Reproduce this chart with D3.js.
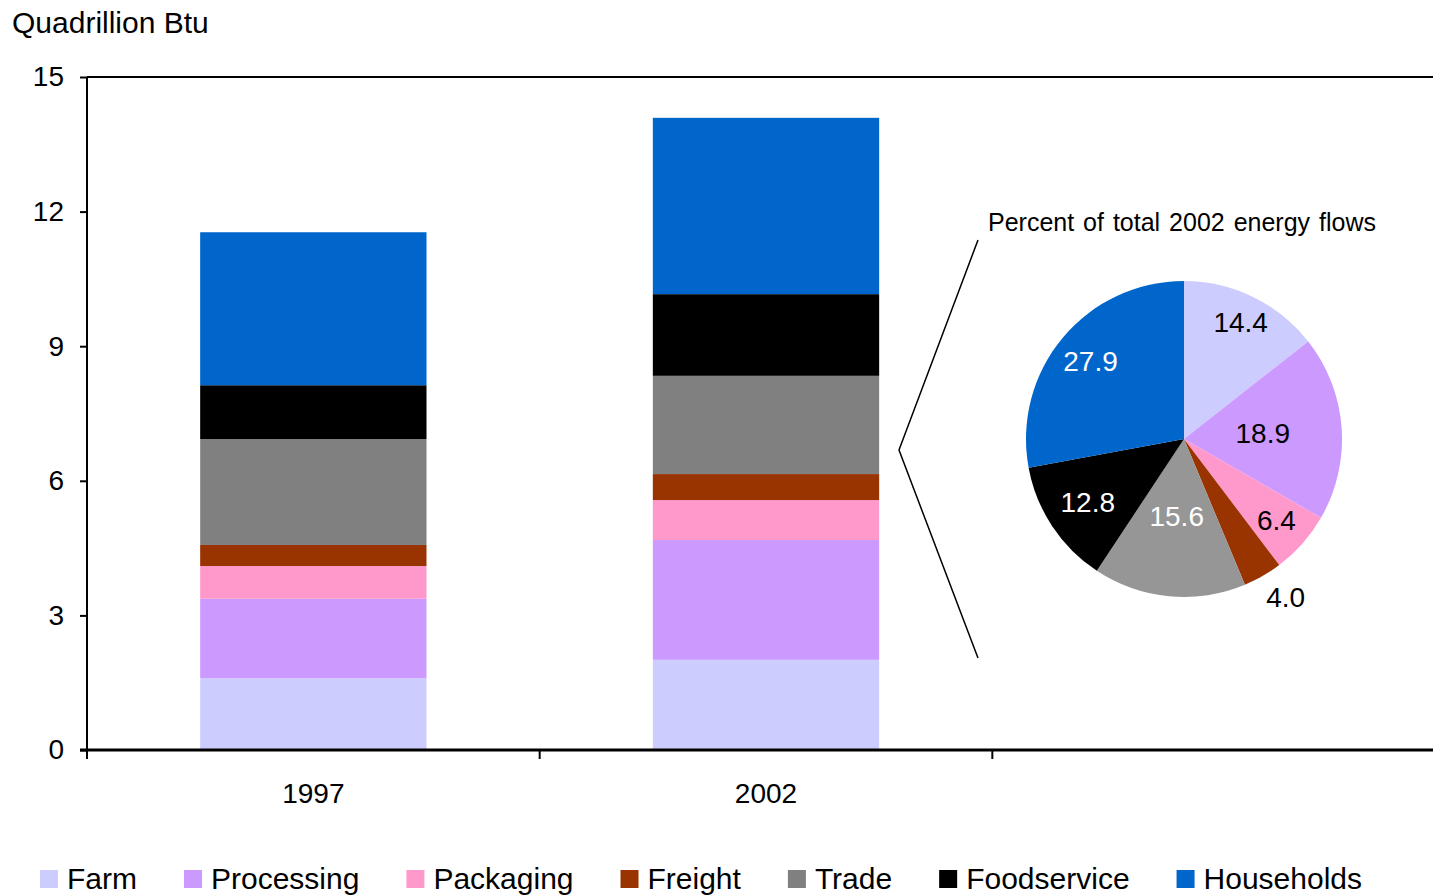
<!DOCTYPE html>
<html><head><meta charset="utf-8">
<script src="https://cdn.jsdelivr.net/npm/d3@7"></script>
<style>body{margin:0;background:#fff}svg{display:block;font-family:"Liberation Sans",Arial,sans-serif}</style>
</head><body><svg id="c" width="1433" height="896"></svg>
<script>
const years = ["1997", "2002"];
const stages = ["Farm", "Processing", "Packaging", "Freight", "Trade", "Foodservice", "Households"];
const values1997 = [1.60, 1.77, 0.73, 0.47, 2.36, 1.20, 3.41];
const values2002 = [2.01, 2.67, 0.89, 0.58, 2.19, 1.82, 3.93];
const pieShares2002 = [14.4, 18.9, 6.4, 4.0, 15.6, 12.8, 27.9];
const yTicks = [0, 3, 6, 9, 12, 15];
const barColors = ["#CCCCFF", "#CC99FF", "#FF99CC", "#993300", "#808080", "#000000", "#0066CC"];
const pieColors = ["#CCCCFF", "#CC99FF", "#FF99CC", "#993300", "#969696", "#000000", "#0066CC"];
const pieLabelColors = ["#000", "#000", "#000", "#000", "#fff", "#fff", "#fff"];

(function () {
const svg = d3.select("#c");
const pLeft = 87, pTop = 77, pBottom = 750, pRight = 1445;

const x = d3.scaleBand().domain([...years, ""]).range([pLeft, pRight]).paddingInner(0.5).paddingOuter(0.25);
const xAxisScale = d3.scaleBand().domain([...years, ""]).range([pLeft, pRight]);
const y = d3.scaleLinear().domain([0, 15]).range([pBottom, pTop]);

const rows = years.map((yr, i) => {
  const vals = i === 0 ? values1997 : values2002;
  const o = {year: yr};
  stages.forEach((s, j) => o[s] = vals[j]);
  return o;
});
const stack = d3.stack().keys(stages)(rows);

svg.append("g").selectAll("g").data(stack).join("g")
  .attr("fill", (d, i) => barColors[i])
  .selectAll("rect").data(d => d).join("rect")
  .attr("x", d => x(d.data.year))
  .attr("width", x.bandwidth())
  .attr("y", d => y(d[1]))
  .attr("height", d => y(d[0]) - y(d[1]));

svg.append("line").attr("x1", pLeft).attr("x2", 1433).attr("y1", pTop).attr("y2", pTop)
  .attr("stroke", "#000").attr("stroke-width", 2);

const yAxis = svg.append("g").attr("transform", `translate(${pLeft},0)`)
  .call(d3.axisLeft(y).tickValues(yTicks).tickSize(7).tickPadding(16));
yAxis.select(".domain").attr("stroke-width", 2).attr("d", `M0,${pTop}V${pBottom}`);
yAxis.selectAll(".tick line").attr("stroke-width", 2);
yAxis.selectAll("text").attr("font-size", 28).attr("font-family", "Liberation Sans, Arial, sans-serif").attr("fill", "#000");

const xAxis = svg.append("g").attr("transform", `translate(0,${pBottom})`)
  .call(d3.axisBottom(xAxisScale).tickSize(0).tickPadding(33));
xAxis.select(".domain").remove();
svg.append("line").attr("x1", pLeft - 7).attr("x2", 1433).attr("y1", pBottom).attr("y2", pBottom)
  .attr("stroke", "#000").attr("stroke-width", 3);
const tickPositions = [0, 1, 2].map(i => pLeft + i * xAxisScale.step());
svg.append("g").selectAll("line").data(tickPositions).join("line")
  .attr("x1", d => d).attr("x2", d => d).attr("y1", pBottom).attr("y2", pBottom + 9)
  .attr("stroke", "#000").attr("stroke-width", 2);
xAxis.selectAll("text").attr("font-size", 28).attr("font-family", "Liberation Sans, Arial, sans-serif").attr("fill", "#000");

svg.append("text").attr("x", 12).attr("y", 33).attr("font-size", 30).text("Quadrillion Btu");

const cx = 1184, cy = 439, r = 158;
const pie = d3.pie().sort(null).value(d => d)(pieShares2002);
const arc = d3.arc().innerRadius(0).outerRadius(r);
const gp = svg.append("g").attr("transform", `translate(${cx},${cy})`);
gp.selectAll("path").data(pie).join("path").attr("d", arc).attr("fill", (d, i) => pieColors[i]);
const labelRadiusFactor = [0.82, 0.5, 0.78, 1.19, 0.49, 0.73, 0.77];
const labelAngleShift = [0, 0, 0, -0.05, 0, 0, 0];
gp.selectAll("text").data(pie).join("text")
  .attr("transform", (d, i) => {
    const a = (d.startAngle + d.endAngle) / 2 + labelAngleShift[i], rr = r * labelRadiusFactor[i];
    return `translate(${Math.sin(a) * rr},${-Math.cos(a) * rr})`;
  })
  .attr("text-anchor", "middle").attr("dy", "0.35em")
  .attr("font-size", 28).attr("fill", (d, i) => pieLabelColors[i])
  .text(d => d.data.toFixed(1));

svg.append("text").attr("x", 988).attr("y", 231).attr("font-size", 25).attr("word-spacing", 2)
  .text("Percent of total 2002 energy flows");

svg.append("path").attr("d", "M978,240L899,450L978,658").attr("fill", "none")
  .attr("stroke", "#000").attr("stroke-width", 1.5);

const lg = svg.append("g");
let lx = 40;
stages.forEach((s, i) => {
  lg.append("rect").attr("x", lx).attr("y", 870).attr("width", 18).attr("height", 18).attr("fill", barColors[i]);
  const t = lg.append("text").attr("x", lx + 27).attr("y", 889).attr("font-size", 30).text(s);
  lx += 27 + t.node().getComputedTextLength() + 47;
});
})();
</script></body></html>
